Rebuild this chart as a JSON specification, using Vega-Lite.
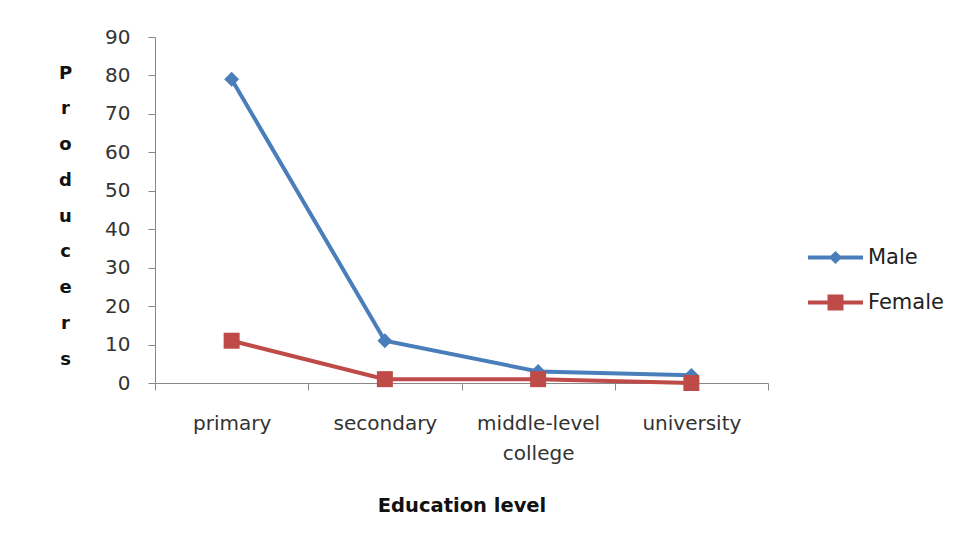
{
  "$schema": "https://vega.github.io/schema/vega-lite/v6.json",
  "width": 613,
  "height": 346,
  "autosize": {"type": "none"},
  "padding": {"left": 155, "top": 37, "right": 195, "bottom": 162},
  "background": "white",
  "config": {"view": {"stroke": null}, "font": "DejaVu Sans"},
  "data": {"values": [
    {"level": "primary", "series": "Male", "value": 79},
    {"level": "secondary", "series": "Male", "value": 11},
    {"level": "middle-level college", "series": "Male", "value": 3},
    {"level": "university", "series": "Male", "value": 2},
    {"level": "primary", "series": "Female", "value": 11},
    {"level": "secondary", "series": "Female", "value": 1},
    {"level": "middle-level college", "series": "Female", "value": 1},
    {"level": "university", "series": "Female", "value": 0}
  ]},
  "encoding": {
    "x": {
      "field": "level", "type": "nominal",
      "sort": ["primary", "secondary", "middle-level college", "university"],
      "scale": {"paddingInner": 0, "paddingOuter": 0},
      "axis": {
        "title": "Education level", "titleFontSize": 19.5, "titleFontWeight": "bold", "titleColor": "#111",
        "titleBaseline": "alphabetic", "titleY": 128,
        "labelAngle": 0, "labelFontSize": 20, "labelColor": "#333", "labelBaseline": "top", "labelPadding": 23,
        "labelLineHeight": 30,
        "labelExpr": "datum.value == 'middle-level college' ? ['middle-level', 'college'] : datum.value",
        "tickBand": "extent", "tickSize": 7, "tickColor": "#888", "domainColor": "#888"
      }
    },
    "y": {
      "field": "value", "type": "quantitative",
      "scale": {"domain": [0, 90], "nice": false},
      "axis": {
        "values": [0, 10, 20, 30, 40, 50, 60, 70, 80, 90],
        "grid": false, "tickSize": 7, "tickColor": "#888", "domainColor": "#888",
        "labelFontSize": 20, "labelColor": "#333", "labelPadding": 18,
        "title": ["P", "r", "o", "d", "u", "c", "e", "r", "s"],
        "titleAngle": 0, "titleAlign": "center", "titleBaseline": "alphabetic",
        "titleX": -90, "titleY": 41, "titleLineHeight": 35.75,
        "titleFontSize": 18, "titleFontWeight": "bold", "titleColor": "#111"
      }
    }
  },
  "layer": [
    {
      "transform": [{"filter": "datum.series == 'Male'"}],
      "mark": {"type": "line", "strokeWidth": 4, "color": "#4a7ebb"}
    },
    {
      "transform": [{"filter": "datum.series == 'Female'"}],
      "mark": {"type": "line", "strokeWidth": 4, "color": "#be4b48"}
    },
    {
      "transform": [{"filter": "datum.series == 'Male'"}],
      "mark": {"type": "point", "shape": "diamond", "filled": true, "size": 220, "color": "#4a7ebb", "opacity": 1}
    },
    {
      "transform": [{"filter": "datum.series == 'Female'"}],
      "mark": {"type": "point", "shape": "square", "filled": true, "size": 256, "color": "#be4b48", "opacity": 1}
    },
    {
      "mark": {"type": "point", "filled": true, "opacity": 0},
      "encoding": {
        "color": {
          "field": "series", "type": "nominal",
          "scale": {"domain": ["Male", "Female"], "range": ["#4a7ebb", "#be4b48"]},
          "legend": {
            "title": null, "orient": "none", "legendX": 653, "legendY": 198,
            "symbolSize": 3025, "symbolOpacity": 1, "symbolStrokeWidth": 0,
            "labelFontSize": 21, "labelColor": "#222", "labelOffset": 5, "rowPadding": 0, "clipHeight": 45
          }
        },
        "shape": {
          "field": "series", "type": "nominal",
          "scale": {"domain": ["Male", "Female"], "range": [
            "M-1,-0.073H1V0.073H-1Z M0,-0.24L0.24,0L0,0.24L-0.24,0Z",
            "M-1,-0.073H1V0.073H-1Z M-0.29,-0.29H0.29V0.29H-0.29Z"
          ]},
          "legend": {
            "title": null, "orient": "none", "legendX": 653, "legendY": 198,
            "symbolSize": 3025, "symbolOpacity": 1, "symbolStrokeWidth": 0,
            "labelFontSize": 21, "labelColor": "#222", "labelOffset": 5, "rowPadding": 0, "clipHeight": 45
          }
        }
      }
    }
  ]
}
